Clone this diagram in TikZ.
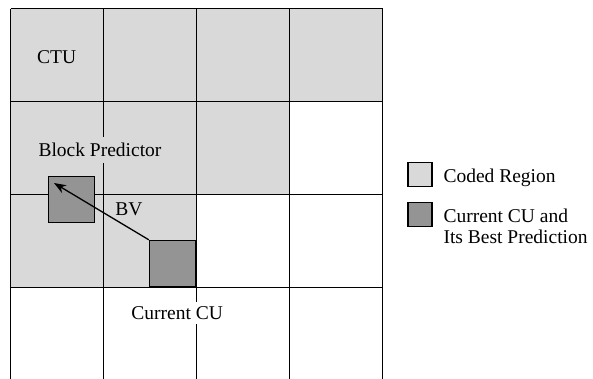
\documentclass[tikz,border=0pt]{standalone}
\usepackage{fontspec}
\setmainfont{Liberation Serif}
\usetikzlibrary{arrows.meta}
\definecolor{codedgray}{RGB}{217,217,217}
\definecolor{cugray}{RGB}{148,148,148}

\begin{document}
\begin{tikzpicture}[x=1pt,y=-1pt,
    lbl/.style={font=\fontsize{19.5}{21}\selectfont, inner sep=0pt},
    gridline/.style={line width=1.6pt},
    cubox/.style={draw, line width=1.2pt, inner sep=0pt}]
  \useasboundingbox (0,0) rectangle (593,378);
  % coded region
  \fill[codedgray] (10.5,8.5) rectangle (382.5,101.5);
  \fill[codedgray] (10.5,101.5) rectangle (289.5,194.5);
  \fill[codedgray] (10.5,194.5) rectangle (196.5,287.5);
  % CTU grid
  \begin{scope}
    \clip (0,0) rectangle (593,378);
    \foreach \x in {10.5,103.5,196.5,289.5,382.5}
      \draw[gridline] (\x,8.5) -- (\x,390);
    \foreach \y in {8.5,101.5,194.5,287.5}
      \draw[gridline] (10.5,\y) -- (382.5,\y);
  \end{scope}
  % current CU and its predictor
  \node[cubox, fill=cugray, minimum size=46.5pt, anchor=north west] (pred) at (47.5,175.5) {};
  \node[cubox, fill=cugray, minimum size=46.5pt, anchor=south east] (cur) at (196.5,287.5) {};
  \draw[-{Stealth[length=12pt,width=9pt]}, line width=1.3pt] (cur.north west) -- ([shift={(6.5,7.5)}]pred.north west);
  \node[lbl, anchor=base] (ctu) at (56.7,63.3) {CTU};
  \node[lbl, anchor=base, fill=codedgray, inner xsep=3pt, inner ysep=6.5pt] (bplbl) at (100,156.7) {Block Predictor};
  \node[lbl, anchor=base] (bv) at (129,215) {BV};
  \node[lbl, anchor=base, fill=white, inner xsep=3pt, inner ysep=4.5pt] (curlbl) at (177.2,319.3) {Current CU};
  % legend
  \node[cubox, fill=codedgray, minimum size=24pt] (legcoded) at (420,174.7) {};
  \node[cubox, fill=cugray, minimum size=24pt] (legcu) at (420,214.5) {};
  \node[lbl, anchor=base west] (txtcoded) at (443.3,182) {Coded Region};
  \node[lbl, anchor=base west] (txtcu) at (443.3,222.3) {Current CU and};
  \node[lbl, anchor=base west] (txtbest) at (443.3,243.3) {Its Best Prediction};
\end{tikzpicture}
\end{document}
